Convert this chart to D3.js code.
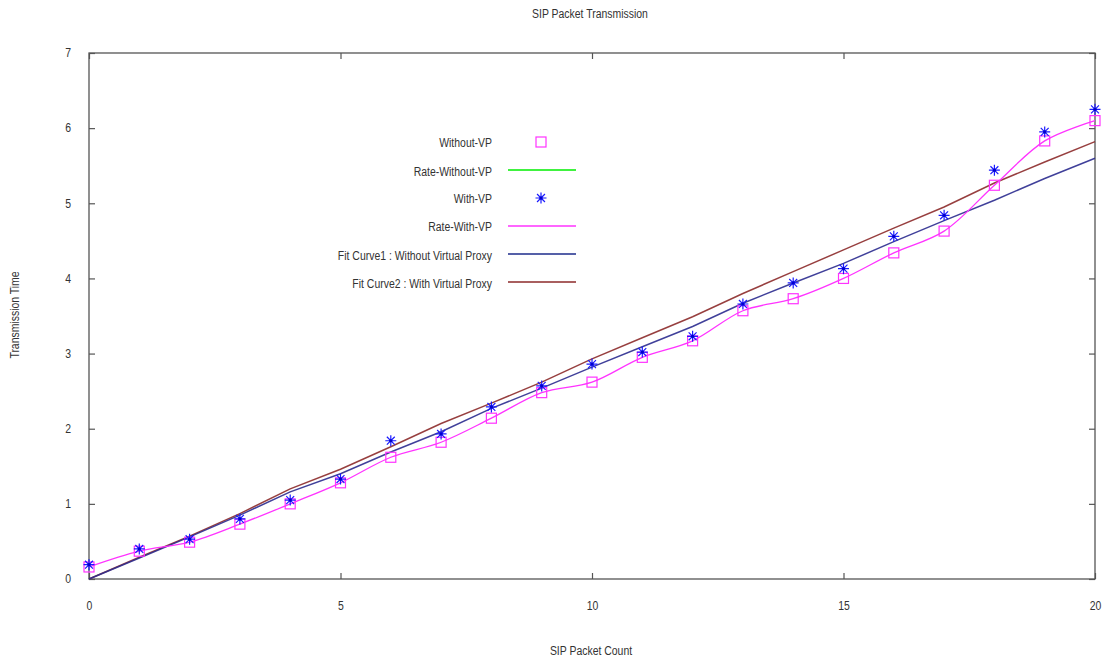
<!DOCTYPE html>
<html><head><meta charset="utf-8">
<script src="https://cdn.jsdelivr.net/npm/d3@7"></script>
<style>body{margin:0;background:#fff;} text{font-family:"Liberation Sans",Arial,sans-serif;}</style>
</head><body><svg id="c" width="1105" height="660"></svg>
<script>
const packetCount = d3.range(0, 21);
const withoutVP = [0.16,0.37,0.49,0.73,1.0,1.28,1.62,1.82,2.14,2.48,2.62,2.95,3.17,3.57,3.73,4.0,4.34,4.63,5.24,5.83,6.1];
const withVP = [0.19,0.40,0.53,0.80,1.05,1.33,1.84,1.93,2.29,2.57,2.86,3.02,3.23,3.66,3.94,4.13,4.56,4.84,5.44,5.95,6.25];
const fitCurve1 = [0,0.28,0.56,0.85,1.16,1.40,1.69,1.96,2.27,2.54,2.82,3.09,3.36,3.67,3.94,4.20,4.49,4.77,5.04,5.33,5.60];
const fitCurve2 = [0,0.29,0.57,0.87,1.20,1.46,1.76,2.07,2.34,2.62,2.93,3.21,3.49,3.80,4.09,4.38,4.67,4.95,5.27,5.55,5.82];
const xTicks = [0,5,10,15,20];
const yTicks = [0,1,2,3,4,5,6,7];
const legendLabels = ["Without-VP","Rate-Without-VP","With-VP","Rate-With-VP","Fit Curve1 : Without Virtual Proxy","Fit Curve2 : With Virtual Proxy"];

(function(){
const svg = d3.select("#c");
const m = {l:89, r:1095, t:53, b:579};
const x = d3.scaleLinear().domain([0,20]).range([m.l, m.r]);
const y = d3.scaleLinear().domain([0,7]).range([m.b, m.t]);
const axisCol = "#555", txtCol = "#333";

svg.append("rect").attr("x", m.l).attr("y", m.t).attr("width", m.r-m.l).attr("height", m.b-m.t)
  .attr("fill","none").attr("stroke", axisCol).attr("stroke-width",1.3);

const gBottom = svg.append("g").attr("transform",`translate(0,${m.b})`)
  .call(d3.axisBottom(x).tickValues(xTicks).tickFormat(d3.format("d")).tickSize(-6).tickPadding(22));
const gTop = svg.append("g").attr("transform",`translate(0,${m.t})`)
  .call(d3.axisTop(x).tickValues(xTicks).tickSize(-6).tickFormat(""));
const gLeft = svg.append("g").attr("transform",`translate(${m.l},0)`)
  .call(d3.axisLeft(y).tickValues(yTicks).tickFormat(d3.format("d")).tickSize(-6).tickPadding(18));
const gRight = svg.append("g").attr("transform",`translate(${m.r},0)`)
  .call(d3.axisRight(y).tickValues(yTicks).tickSize(-6).tickFormat(""));
[gBottom, gTop, gLeft, gRight].forEach(g => {
  g.select(".domain").remove();
  g.selectAll("line").attr("stroke", axisCol).attr("stroke-width",1.2);
  g.selectAll("text").attr("fill", txtCol).attr("font-size", 12).attr("font-family","Liberation Sans, Arial, sans-serif");
});

const t1 = svg.append("text").attr("x", 590).attr("y", 18).attr("text-anchor","middle").attr("font-size",12).attr("fill",txtCol).text("SIP Packet Transmission");
const t2 = svg.append("text").attr("x", 591).attr("y", 655).attr("text-anchor","middle").attr("font-size",12).attr("fill",txtCol).text("SIP Packet Count");
const t3 = svg.append("text").attr("transform","translate(19,315) rotate(-90)").attr("text-anchor","middle").attr("font-size",12).attr("fill",txtCol).text("Transmission Time");

const magenta = "#ff33ff", blueFit = "#2b2b8f", brownFit = "#8c2a2a", green = "#00ee00", star = "#1a1aff";

const lineL = d3.line().x((d,i)=>x(packetCount[i])).y(d=>y(d));
svg.append("path").datum(fitCurve2).attr("d", lineL).attr("fill","none").attr("stroke", brownFit).attr("stroke-width",1.5).attr("stroke-opacity",0.9);
svg.append("path").datum(fitCurve1).attr("d", lineL).attr("fill","none").attr("stroke", blueFit).attr("stroke-width",1.5).attr("stroke-opacity",0.9);

const lineS = d3.line().x((d,i)=>x(packetCount[i])).y(d=>y(d)).curve(d3.curveCatmullRom.alpha(0.5));
svg.append("path").datum(withoutVP).attr("d", lineS).attr("fill","none").attr("stroke", magenta).attr("stroke-width",1.3);

function drawSquare(g, cx, cy){
  g.append("rect").attr("x", cx-5).attr("y", cy-5).attr("width",10).attr("height",10)
   .attr("fill","none").attr("stroke", magenta).attr("stroke-width",1.2);
}
function drawStar(g, cx, cy){
  const r = 5.5, k = r*0.72;
  const p = `M${cx-r},${cy}L${cx+r},${cy}M${cx},${cy-r}L${cx},${cy+r}M${cx-k},${cy-k}L${cx+k},${cy+k}M${cx-k},${cy+k}L${cx+k},${cy-k}`;
  g.append("path").attr("d", p).attr("stroke", star).attr("stroke-width",1.2).attr("fill","none");
  g.append("circle").attr("cx",cx).attr("cy",cy).attr("r",1.6).attr("fill","#0000cc");
}
const marks = svg.append("g");
withoutVP.forEach((v,i)=>drawSquare(marks, x(packetCount[i]), y(v)));
withVP.forEach((v,i)=>drawStar(marks, x(packetCount[i]), y(v)));

const lg = svg.append("g");
const rows = [143,172,199,227,256,284];
legendLabels.forEach((t,i)=>{
  lg.append("text").attr("x", 492).attr("y", rows[i]+4).attr("text-anchor","end").attr("font-size",12).attr("fill",txtCol).text(t);
});
drawSquare(lg, 541, 142);
lg.append("line").attr("x1",508).attr("x2",576).attr("y1",170).attr("y2",170).attr("stroke",green).attr("stroke-width",1.5);
drawStar(lg, 541, 198);
lg.append("line").attr("x1",508).attr("x2",576).attr("y1",226).attr("y2",226).attr("stroke",magenta).attr("stroke-width",1.3);
lg.append("line").attr("x1",508).attr("x2",576).attr("y1",254).attr("y2",254).attr("stroke","#5560a8").attr("stroke-width",2);
lg.append("line").attr("x1",508).attr("x2",576).attr("y1",282).attr("y2",282).attr("stroke",brownFit).attr("stroke-width",1.5);

// condensed text look
svg.selectAll("text").each(function(){
  const len = this.getComputedTextLength();
  if (len > 0) d3.select(this).attr("textLength", len*0.87).attr("lengthAdjust","spacingAndGlyphs");
});
})();
</script></body></html>
